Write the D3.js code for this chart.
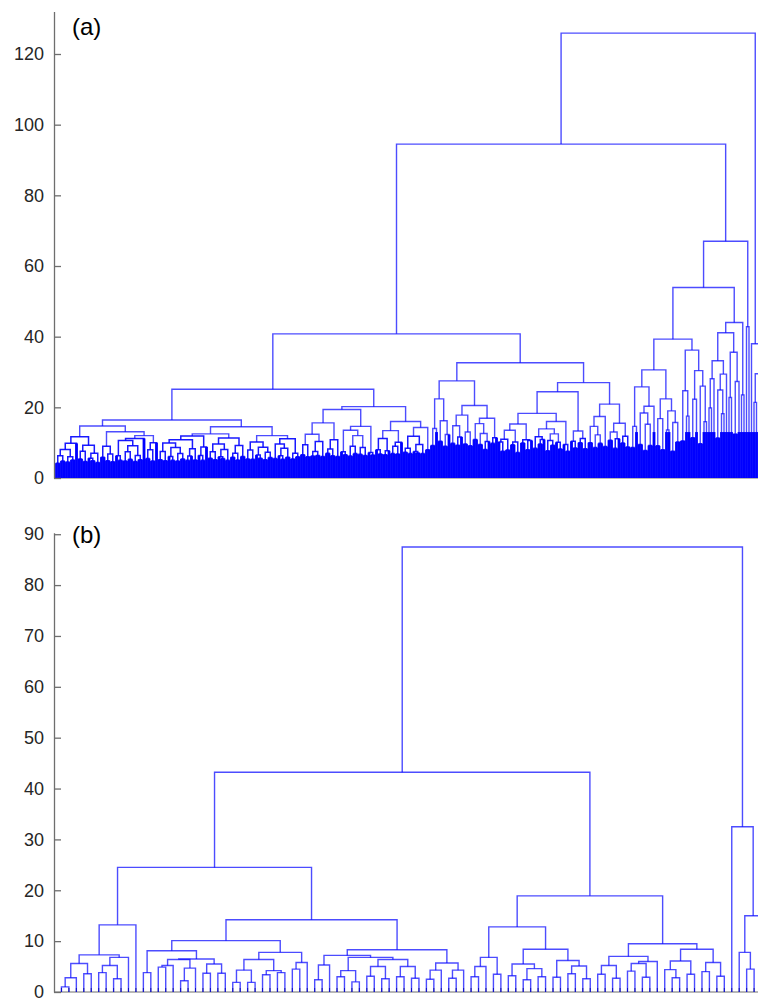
<!DOCTYPE html>
<html>
<head>
<meta charset="utf-8">
<script src="https://cdn.jsdelivr.net/npm/d3@7"></script>
<style>
  body { margin: 0; background: #fff; }
  svg { display: block; }
</style>
</head>
<body>
<script>
// merge height between each pair of neighbouring leaves, left to right
// panel (a): 285 leaves
const gapsA = [
  4.2, 6.3, 4.8, 8.1, 4.5, 6.0, 5.1, 9.8, 11.7, 5.4,
  7.6, 4.7, 9.3, 5.6, 4.9, 7.0, 4.4, 14.7, 5.9, 9.0,
  4.9, 6.8, 4.6, 13.1, 6.3, 5.0, 10.6, 4.8, 7.4, 5.3,
  9.1, 4.7, 6.4, 5.2, 11.2, 12.0, 5.5, 8.0, 4.8, 10.0,
  16.4, 5.2, 7.5, 4.9, 9.9, 6.1, 5.0, 8.6, 4.8, 6.9,
  5.4, 10.8, 5.0, 6.2, 8.3, 5.1, 11.9, 6.4, 5.0, 8.8,
  12.5, 5.6, 7.4, 5.2, 9.6, 6.0, 5.5, 8.1, 5.0, 11.3,
  5.9, 7.0, 5.1, 9.2, 6.1, 14.5, 5.4, 7.9, 5.3, 10.2,
  6.5, 5.6, 8.7, 5.2, 7.3, 5.8, 12.0, 5.5, 9.6, 6.3,
  5.3, 8.4, 5.9, 11.1, 5.4, 7.0, 6.0, 25.1, 6.6, 9.4,
  6.0, 12.4, 6.2, 7.5, 6.4, 10.3, 6.1, 15.6, 7.0, 8.2,
  6.3, 10.8, 6.1, 19.4, 7.4, 6.6, 13.5, 6.2, 9.0, 6.9,
  12.0, 6.7, 8.6, 6.4, 14.6, 7.2, 6.5, 20.2, 8.0, 6.8,
  11.2, 6.6, 7.7, 13.4, 6.9, 9.0, 6.8, 10.1, 16.0, 7.3,
  8.4, 6.9, 11.8, 7.5, 7.1, 9.5, 6.9, 14.3, 8.0, 40.8,
  9.2, 14.0, 22.4, 10.4, 16.2, 9.0, 12.3, 27.5, 9.8, 14.8,
  9.3, 11.6, 17.8, 9.6, 13.0, 9.1, 20.5, 10.9, 15.4, 9.5,
  12.6, 8.1, 10.3, 16.9, 9.8, 11.4, 32.6, 10.2, 7.6, 11.0,
  7.9, 13.5, 9.4, 10.2, 7.2, 15.3, 9.9, 10.8, 8.0, 10.6,
  18.3, 8.4, 11.7, 9.6, 10.9, 13.9, 7.7, 10.6, 9.3, 12.5,
  10.1, 8.2, 16.0, 9.5, 7.6, 24.4, 10.4, 8.5, 13.3, 10.0,
  11.2, 8.3, 27.0, 10.0, 14.6, 8.6, 12.2, 9.8, 17.4, 8.9,
  20.9, 10.7, 13.0, 8.4, 11.1, 15.5, 9.9, 11.8, 8.8, 94.5,
  8.6, 14.6, 25.8, 9.5, 18.4, 7.8, 15.2, 9.2, 20.3, 30.6,
  9.1, 16.8, 8.0, 22.4, 13.6, 19.0, 7.6, 15.7, 10.2, 39.3,
  10.5, 24.7, 17.5, 36.2, 11.4, 22.3, 30.4, 9.7, 26.0, 15.9,
  53.9, 19.8, 28.1, 33.2, 11.3, 24.9, 18.2, 29.4, 41.1, 22.8,
  35.6, 12.5, 27.3, 44.0, 23.5, 67.0, 42.8, 125.9, 38.0, 21.4,
  29.5, 14.2, 24.0, 18.6
];

// panel (b): 95 leaves
const gapsB = [
  1.0, 2.8, 5.6, 3.6, 7.3, 3.8, 5.2, 2.6, 6.8, 13.2,
  24.5, 3.8, 8.1, 4.9, 5.2, 6.4, 2.2, 4.7, 6.5, 3.7,
  5.5, 3.7, 10.1, 1.9, 4.3, 1.9, 6.4, 3.4, 4.2, 3.8,
  7.8, 4.5, 5.8, 14.2, 2.4, 5.3, 7.2, 3.0, 4.2, 2.0,
  6.8, 3.1, 5.0, 2.6, 6.4, 3.0, 5.0, 2.7, 8.3, 2.5,
  4.3, 5.7, 2.7, 4.3, 43.2, 3.0, 5.0, 6.8, 3.5, 12.8,
  3.2, 5.5, 2.4, 4.6, 3.0, 8.4, 2.9, 6.2, 3.6, 5.1,
  2.6, 18.9, 3.5, 5.2, 2.7, 7.0, 4.1, 5.6, 2.9, 6.0,
  9.5, 4.4, 2.8, 6.1, 3.5, 8.4, 4.0, 5.8, 3.1, 87.5,
  32.5, 7.8, 4.5, 15.0
];

const ticksA = [0, 20, 40, 60, 80, 100, 120];
const ticksB = [0, 10, 20, 30, 40, 50, 60, 70, 80, 90];
const panelNames = ["(a)", "(b)"];

const width = 758, height = 998;
const blue = "#0000ff", axisGrey = "#6e6e6e", textCol = "#262626";
const font = "'Liberation Sans', Arial, sans-serif";

const svg = d3.select("body").append("svg")
  .attr("width", width)
  .attr("height", height);

// highest merge splits the leaves first, like a dendrogram
function buildTree(gaps) {
  function rec(lo, hi) {
    if (lo === hi) return { leaf: lo, h: 0 };
    let k = lo;
    for (let j = lo; j < hi; j++) if (gaps[j] > gaps[k]) k = j;
    return { h: gaps[k], children: [rec(lo, k), rec(k + 1, hi)] };
  }
  return rec(0, gaps.length);
}

function drawPanel(gaps, ticks, name, opt) {
  const n = gaps.length + 1;
  const x = d3.scaleLinear().domain([0, n + 1]).range([54, 769]);
  const y = d3.scaleLinear().domain([0, opt.ymax]).range([opt.bottom, opt.top]);

  const root = d3.hierarchy(buildTree(gaps));
  // leaf i sits at i+1, a node sits halfway between its two children
  root.eachAfter(d => {
    d.pos = d.children ? (d.children[0].pos + d.children[1].pos) / 2 : d.data.leaf + 1;
  });

  const g = svg.append("g");

  // x axis base line
  g.append("line")
    .attr("x1", x(0)).attr("x2", x(n + 1))
    .attr("y1", y(0)).attr("y2", y(0))
    .attr("stroke", axisGrey).attr("stroke-width", 1.2);

  if (opt.leafTicks) {
    g.selectAll("line.lt")
      .data(root.leaves())
      .join("line")
        .attr("class", "lt")
        .attr("x1", d => x(d.pos)).attr("x2", d => x(d.pos))
        .attr("y1", y(0)).attr("y2", y(0) - 4)
        .attr("stroke", "#333").attr("stroke-width", 1);
  }

  // thick leaf stems make the dense base of a big tree
  if (opt.stemCap) {
    const step = x(1) - x(0);
    g.selectAll("line.stem")
      .data(root.leaves())
      .join("line")
        .attr("class", "stem")
        .attr("x1", d => x(d.pos)).attr("x2", d => x(d.pos))
        .attr("y1", y(0))
        .attr("y2", d => y(Math.min(d.parent.data.h, opt.stemCap)))
        .attr("stroke", blue)
        .attr("stroke-width", step + 0.3);
  }

  const low = opt.denseBelow || 0;
  g.selectAll("path.link")
    .data(root.descendants().filter(d => d.children))
    .join("path")
      .attr("class", "link")
      .attr("fill", "none")
      .attr("stroke", blue)
      .attr("stroke-opacity", d => d.data.h < low ? 0.9 : 0.7)
      .attr("stroke-width", d => d.data.h < low ? 1.5 : 1.4)
      .attr("d", d => {
        const a = d.children[0], b = d.children[1];
        return "M" + x(a.pos) + "," + y(a.data.h) +
               "V" + y(d.data.h) +
               "H" + x(b.pos) +
               "V" + y(b.data.h);
      });

  // y axis, ticks point into the plot
  const ax = g.append("g")
    .attr("transform", "translate(" + x(0) + ",0)")
    .call(d3.axisLeft(y).tickValues(ticks).tickSize(-7).tickSizeOuter(0).tickPadding(10));
  ax.select(".domain").attr("stroke", axisGrey).attr("stroke-width", 1.3);
  ax.selectAll(".tick line").attr("stroke", axisGrey).attr("stroke-width", 1.3);
  ax.selectAll(".tick text")
    .attr("fill", textCol)
    .style("font-family", font)
    .style("font-size", "18px");

  g.append("text")
    .attr("x", 72).attr("y", opt.labelY)
    .attr("fill", "#000")
    .style("font-family", font)
    .style("font-size", "24px")
    .text(name);
}

drawPanel(gapsA, ticksA, panelNames[0], { ymax: 132, bottom: 478, top: 11.6, labelY: 35, stemCap: 13, denseBelow: 12 });
drawPanel(gapsB, ticksB, panelNames[1], { ymax: 90.3, bottom: 992, top: 532.7, labelY: 543, leafTicks: true });
</script>
</body>
</html>
